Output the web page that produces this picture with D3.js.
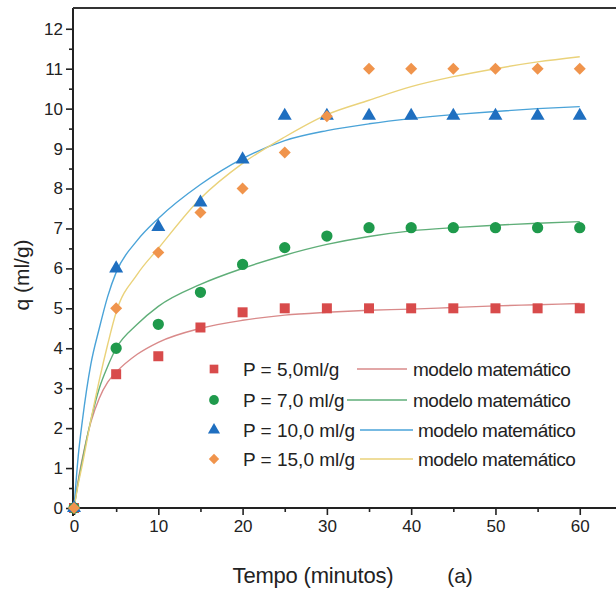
<!DOCTYPE html>
<html><head><meta charset="utf-8">
<script src="https://cdn.jsdelivr.net/npm/d3@7"></script>
<style>
html,body{margin:0;padding:0;background:#fff;}
svg{display:block;font-family:"Liberation Sans",Arial,sans-serif;}
</style></head>
<body><svg id="c" width="616" height="590"></svg>
<script>
// ---- data ----
const tPoints = [0,5,10,15,20,25,30,35,40,45,50,55,60];
const qP5  = [0,3.35,3.8,4.52,4.9,5.0,5.0,5.0,5.0,5.0,5.0,5.0,5.0];
const qP7  = [0,4.0,4.6,5.4,6.1,6.52,6.81,7.02,7.02,7.02,7.02,7.02,7.02];
const qP10 = [0,6.0,7.04,7.65,8.73,9.82,9.82,9.82,9.82,9.82,9.82,9.82,9.82];
const qP15 = [0,5.0,6.4,7.4,8.0,8.9,9.81,11.0,11.0,11.0,11.0,11.0,11.0];

const tModel = [0,0.5,1,2,3,4,5,7.5,10,15,20,25,30,35,40,45,50,55,60];
const mP5  = [0,0.7,1.25,2.15,2.75,3.15,3.4,3.85,4.15,4.5,4.7,4.83,4.9,4.95,4.98,5.02,5.06,5.09,5.12];
const mP7  = [0,0.65,1.2,2.2,3.0,3.55,4.0,4.6,5.05,5.6,6.0,6.33,6.6,6.8,6.94,7.02,7.08,7.13,7.17];
const mP10 = [0,1.3,2.2,3.6,4.5,5.3,5.9,6.7,7.25,8.1,8.75,9.2,9.45,9.62,9.75,9.85,9.93,10.0,10.05];
const mP15 = [0,0.6,1.1,2.2,3.2,4.1,4.9,5.85,6.5,7.75,8.63,9.29,9.85,10.21,10.55,10.8,11.0,11.17,11.3];

const seriesLabels = ["P = 5,0ml/g","P = 7,0 ml/g","P = 10,0 ml/g","P = 15,0 ml/g"];
const modelLabel = "modelo matemático";
const xTicks = [0,10,20,30,40,50,60];
const xMinor = [5,15,25,35,45,55];
const yTicks = [0,1,2,3,4,5,6,7,8,9,10,11,12];
const yMinor = [0.5,1.5,2.5,3.5,4.5,5.5,6.5,7.5,8.5,9.5,10.5,11.5];

// ---- styles ----
const markerColors = ["#d84b4b","#1f9a4c","#1f6fc0","#f0944c"];
const lineColors   = ["#d98a8a","#5fae78","#4aa3d8","#ead27a"];
const markerTypes  = [d3.symbolSquare, d3.symbolCircle, d3.symbolTriangle, d3.symbolSquare];
const markerSizes  = [100, 100, 85, 72];
const markerRot    = [0, 0, 0, 45];

const svg = d3.select("#c");
const x = d3.scaleLinear().domain([-0.12, 64.3]).range([73, 616]);
const y = d3.scaleLinear().domain([0, 12.52]).range([508, 8]);

// axes
const gx = svg.append("g").attr("transform","translate(0,508)")
  .call(d3.axisBottom(x).tickValues(xTicks).tickSize(7).tickPadding(5).tickFormat(d3.format("d")));
const gxm = svg.append("g").attr("transform","translate(0,508)")
  .call(d3.axisBottom(x).tickValues(xMinor).tickSize(4).tickFormat(""));
const gy = svg.append("g").attr("transform","translate(73,0)")
  .call(d3.axisLeft(y).tickValues(yTicks).tickSize(7).tickPadding(3).tickFormat(d3.format("d")));
const gym = svg.append("g").attr("transform","translate(73,0)")
  .call(d3.axisLeft(y).tickValues(yMinor).tickSize(4).tickFormat(""));
[gx,gxm,gy,gym].forEach(g=>{
  g.select(".domain").remove();
  g.selectAll(".tick line").attr("stroke","#222").attr("stroke-width",1.6);
  g.selectAll("text").attr("fill","#222").style("font-size","17px").style("font-family","'Liberation Sans',Arial,sans-serif");
});
// axis lines
svg.append("line").attr("x1",73).attr("x2",616).attr("y1",508).attr("y2",508).attr("stroke","#222").attr("stroke-width",2);
svg.append("line").attr("x1",73).attr("x2",73).attr("y1",8).attr("y2",516).attr("stroke","#222").attr("stroke-width",2);
svg.append("line").attr("x1",73).attr("x2",616).attr("y1",8).attr("y2",8).attr("stroke","#333").attr("stroke-width",2);

// model curves
const models = [mP5,mP7,mP10,mP15];
const line = d3.line().x(d=>x(d[0])).y(d=>y(d[1])).curve(d3.curveMonotoneX);
models.forEach((m,i)=>{
  svg.append("path").datum(tModel.map((t,j)=>[t,m[j]]))
    .attr("d",line).attr("fill","none").attr("stroke",lineColors[i]).attr("stroke-width",1.4);
});

// points
const pts = [qP5,qP7,qP10,qP15];
pts.forEach((s,i)=>{
  svg.append("g").selectAll("path").data(tPoints.map((t,j)=>[t,s[j]])).join("path")
    .attr("transform",d=>`translate(${x(d[0])},${y(d[1])}) rotate(${markerRot[i]})`)
    .attr("d",d3.symbol().type(markerTypes[i]).size(markerSizes[i]))
    .attr("fill",markerColors[i]);
});

// legend
const legY = [369,400,430,459];
const lineX = [[357,407],[347,407],[360,413],[360,413]];
const modelX = [413,413,418,418];
seriesLabels.forEach((lab,i)=>{
  svg.append("path").attr("transform",`translate(214,${legY[i]}) rotate(${markerRot[i]})`)
    .attr("d",d3.symbol().type(markerTypes[i]).size(markerSizes[i]*0.75)).attr("fill",markerColors[i]);
  svg.append("text").attr("x",243).attr("y",legY[i]+7).text(lab)
    .style("font-size","19px").attr("fill","#222");
  svg.append("line").attr("x1",lineX[i][0]).attr("x2",lineX[i][1]).attr("y1",legY[i]).attr("y2",legY[i])
    .attr("stroke",lineColors[i]).attr("stroke-width",1.3);
  svg.append("text").attr("x",modelX[i]).attr("y",legY[i]+7).text(modelLabel)
    .style("font-size","19px").style("letter-spacing","-0.5px").attr("fill","#222");
});

// axis titles
svg.append("text").attr("x",313).attr("y",583).attr("text-anchor","middle")
  .text("Tempo (minutos)").style("font-size","22px").style("letter-spacing","-0.2px").attr("fill","#222");
svg.append("text").attr("x",460).attr("y",583).attr("text-anchor","middle")
  .text("(a)").style("font-size","21px").attr("fill","#222");
svg.append("text").attr("transform","translate(29,275) rotate(-90)").attr("text-anchor","middle")
  .text("q  (ml/g)").style("font-size","21px").attr("fill","#222");
</script></body></html>
